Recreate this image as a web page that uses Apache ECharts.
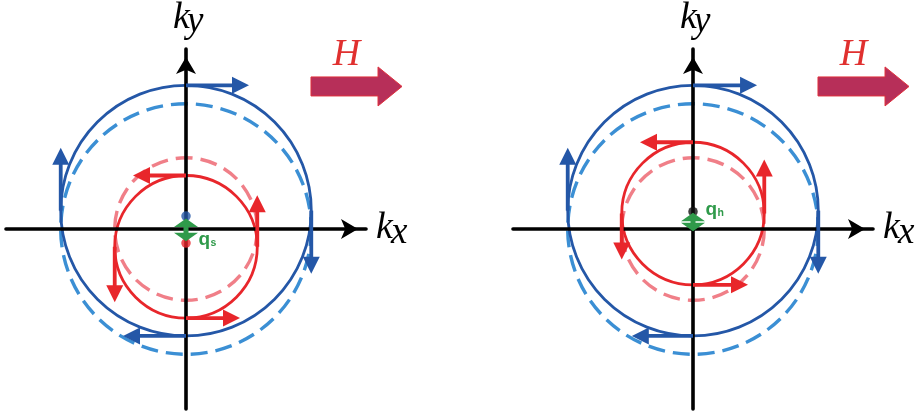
<!DOCTYPE html>
<html>
<head>
<meta charset="utf-8">
<script src="https://cdn.jsdelivr.net/npm/echarts@6/dist/echarts.min.js"></script>
<style>
  html, body { margin: 0; padding: 0; background: #fff; }
  #chart { width: 915px; height: 411px; }
</style>
</head>
<body>
<div id="chart"></div>
<script>
// Two momentum-space sketches: left = finite-momentum pairing q_s, right = q_h.
const panelNames = ['s', 'h'];
const axisTitles = ['x', 'y'];

// Fermi-circle radii (k units)
const outerRadius = 1.74;
const innerRadius = 0.99;

// ky shift of the field-displaced (solid) circles, per panel
const outerShift = [0.255, 0.255];
const innerShift = [-0.247, 0.215];

// tangent spin-arrow lengths on each solid circle: [top, right, bottom, left]
const outerArrowLen = [[0.875, 0.875, 0.875, 0.875], [0.89, 0.875, 0.85, 0.875]];
const innerArrowLen = [[0.736, 0.715, 0.75, 0.77], [0.736, 0.75, 0.764, 0.64]];

// pair-momentum markers on the ky axis
const dotsLeft = [0.18, -0.195];   // blue, red
const dotsRight = [0.24];          // black
// green double arrow ends (ky) and label baseline (ky)
const qArrowEnds = [[0.145, -0.17], [0.225, -0.03]];
const qLabelY = [-0.243, 0.174];

const BLUE = '#2457a7', BLUE_D = '#3b8fd4', RED = '#e8262b', RED_D = '#f07f88';
const GREEN = '#2f9a4a';
const SERIF = '"Liberation Serif", "Times New Roman", serif';
const SANS = '"Liberation Sans", Arial, sans-serif';

// arrows along a circle of centre (0, c), radius r; sense +1 = counter-clockwise
function circleArrows(c, r, lens, sense) {
  return [
    [0, c + r, -sense * lens[0], c + r],          // top
    [r, c, r, c + sense * lens[1]],               // right
    [0, c - r, sense * lens[2], c - r],           // bottom
    [-r, c, -r, c - sense * lens[3]]              // left
  ];
}

function renderCircle(params, api) {
  const c = api.coord([api.value(0), api.value(1)]);
  const r = api.size([api.value(2), 0])[0];
  const dashed = api.value(3) === 1;
  return {
    type: 'circle',
    shape: { cx: c[0], cy: c[1], r: r },
    style: {
      fill: 'none',
      stroke: api.visual('color'),
      lineWidth: dashed ? 3.4 : 2.8,
      lineDash: dashed ? [17, 8] : null
    }
  };
}

function renderArrow(params, api) {
  const p0 = api.coord([api.value(0), api.value(1)]);
  const p1 = api.coord([api.value(2), api.value(3)]);
  const color = api.visual('color');
  const dx = p1[0] - p0[0], dy = p1[1] - p0[1];
  const L = Math.hypot(dx, dy) || 1;
  const ux = dx / L, uy = dy / L;
  const headLen = 17, half = 8.5;
  const bx = p1[0] - ux * headLen, by = p1[1] - uy * headLen;
  return {
    type: 'group',
    children: [
      { type: 'line', shape: { x1: p0[0], y1: p0[1], x2: bx + ux, y2: by + uy },
        style: { stroke: color, lineWidth: 3.8 } },
      { type: 'polygon', shape: { points: [[p1[0], p1[1]], [bx - uy * half, by + ux * half], [bx + uy * half, by - ux * half]] },
        style: { fill: color } }
    ]
  };
}

function renderQ(params, api) {
  const top = api.coord([0, api.value(0)]);
  const bot = api.coord([0, api.value(1)]);
  const lab = api.coord([0, api.value(2)]);
  const hw = 12, hh = 8.5;
  const x = top[0];
  return {
    type: 'group',
    children: [
      { type: 'polygon', shape: { points: [[x, top[1]], [x + hw, top[1] + hh], [x - hw, top[1] + hh]] }, style: { fill: GREEN } },
      { type: 'polygon', shape: { points: [[x, bot[1]], [x + hw, bot[1] - hh], [x - hw, bot[1] - hh]] }, style: { fill: GREEN } },
      { type: 'rect', shape: { x: x - 2.5, y: top[1] + hh - 1, width: 5, height: bot[1] - top[1] - 2 * hh + 2 }, style: { fill: GREEN } },
      { type: 'text', x: x + 12.5, y: lab[1] - 6.8,
        style: { text: 'q', font: 'bold 19px ' + SANS, fill: GREEN, verticalAlign: 'middle', align: 'left' } },
      { type: 'text', x: x + 24.5, y: lab[1] - 3.6,
        style: { text: panelNames[api.value(3)], font: 'bold 10.5px ' + SANS, fill: GREEN, verticalAlign: 'middle', align: 'left' } }
    ]
  };
}

// applied field H: broad arrow pointing along +kx
function renderField(params, api) {
  const tail = api.coord([1.736, 1.98]);
  const neck = api.coord([2.667, 1.98]);
  const tip = api.coord([3.0, 1.98]);
  const y = tail[1], b = 9.5, h = 19.5;
  return {
    type: 'group',
    children: [
      { type: 'polygon',
        shape: { points: [[tail[0], y - b], [neck[0], y - b], [neck[0], y - h], [tip[0], y], [neck[0], y + h], [neck[0], y + b], [tail[0], y + b]] },
        style: { fill: '#b72f59', stroke: '#e0313d', lineWidth: 1 } },
      { type: 'text', x: (tail[0] + neck[0]) / 2 + 2, y: y - 31,
        style: { text: 'H', font: 'italic 38px ' + SERIF, fill: '#e0302f', align: 'center', verticalAlign: 'middle' } }
    ]
  };
}

// axis titles k_x (right of the kx arrow) and k_y (above the ky arrow)
function renderTitles(params, api) {
  const xEnd = api.coord([2.5, 0]);
  const yEnd = api.coord([0, 2.5]);
  const kFont = 'italic 38px ' + SERIF, sFont = 'italic 37px ' + SERIF;
  const t = function (txt, x, y, font) {
    return { type: 'text', x: x, y: y, style: { text: txt, font: font, fill: '#000', align: 'left', verticalAlign: 'middle' } };
  };
  return {
    type: 'group',
    children: [
      t('k', xEnd[0] + 10, xEnd[1] - 0.5, kFont),
      t(axisTitles[0], xEnd[0] + 25, xEnd[1] + 4, sFont),
      t('k', yEnd[0] - 13, yEnd[1] - 31, kFont),
      t(axisTitles[1], yEnd[0] + 1, yEnd[1] - 27, sFont)
    ]
  };
}

const chart = echarts.init(document.getElementById('chart'), null, { renderer: 'canvas' });

const grids = [
  { left: 6, top: 49, width: 360, height: 360 },
  { left: 513, top: 49, width: 360, height: 360 }
];

const axisLine = {
  onZero: true,
  symbol: ['none', 'arrow'],
  symbolSize: [15, 17],
  symbolOffset: [0, -8],
  lineStyle: { color: '#000', width: 3.6 }
};

const xAxes = [], yAxes = [], series = [];
[0, 1].forEach(function (g) {
  xAxes.push({
    gridIndex: g, type: 'value', min: -2.5, max: 2.5, z: 3,
    axisLine: axisLine, axisTick: { show: false }, axisLabel: { show: false }, splitLine: { show: false }
  });
  yAxes.push({
    gridIndex: g, type: 'value', min: -2.5, max: 2.5, z: 3,
    axisLine: axisLine, axisTick: { show: false }, axisLabel: { show: false }, splitLine: { show: false }
  });

  const common = { type: 'custom', xAxisIndex: g, yAxisIndex: g, clip: false, silent: true };
  // unshifted (dashed) and shifted (solid) Fermi circles
  series.push(Object.assign({}, common, { name: 'outer0', z: 2, itemStyle: { color: BLUE_D }, renderItem: renderCircle, data: [[0, 0, outerRadius, 1]] }));
  series.push(Object.assign({}, common, { name: 'inner0', z: 2, itemStyle: { color: RED_D }, renderItem: renderCircle, data: [[0, 0, innerRadius, 1]] }));
  series.push(Object.assign({}, common, { name: 'outer', z: 2, itemStyle: { color: BLUE }, renderItem: renderCircle, data: [[0, outerShift[g], outerRadius, 0]] }));
  series.push(Object.assign({}, common, { name: 'inner', z: 2, itemStyle: { color: RED }, renderItem: renderCircle, data: [[0, innerShift[g], innerRadius, 0]] }));
  // spin-texture arrows: outer clockwise, inner counter-clockwise
  series.push(Object.assign({}, common, { name: 'outerSpin', z: 4, itemStyle: { color: BLUE }, renderItem: renderArrow,
    data: circleArrows(outerShift[g], outerRadius, outerArrowLen[g], -1) }));
  series.push(Object.assign({}, common, { name: 'innerSpin', z: 4, itemStyle: { color: RED }, renderItem: renderArrow,
    data: circleArrows(innerShift[g], innerRadius, innerArrowLen[g], 1) }));
  // circle-centre markers
  const dots = g === 0 ? dotsLeft : dotsRight;
  const dotColors = g === 0 ? [BLUE, RED] : ['#111'];
  series.push({
    type: 'scatter', xAxisIndex: g, yAxisIndex: g, z: 5, silent: true, symbolSize: 9.5,
    data: dots.map(function (v, i) { return { value: [0, v], itemStyle: { color: dotColors[i] } }; })
  });
  // pair momentum q
  series.push(Object.assign({}, common, { name: 'q', z: 6, renderItem: renderQ,
    data: [[qArrowEnds[g][0], qArrowEnds[g][1], qLabelY[g], g]] }));
  // field arrow
  series.push(Object.assign({}, common, { name: 'H', z: 6, renderItem: renderField, data: [[0, 0]] }));
  // axis titles
  series.push(Object.assign({}, common, { name: 'titles', z: 6, renderItem: renderTitles, data: [[0, 0]] }));
});

chart.setOption({
  animation: false,
  backgroundColor: '#fff',
  grid: grids,
  xAxis: xAxes,
  yAxis: yAxes,
  series: series
});
</script>
</body>
</html>
